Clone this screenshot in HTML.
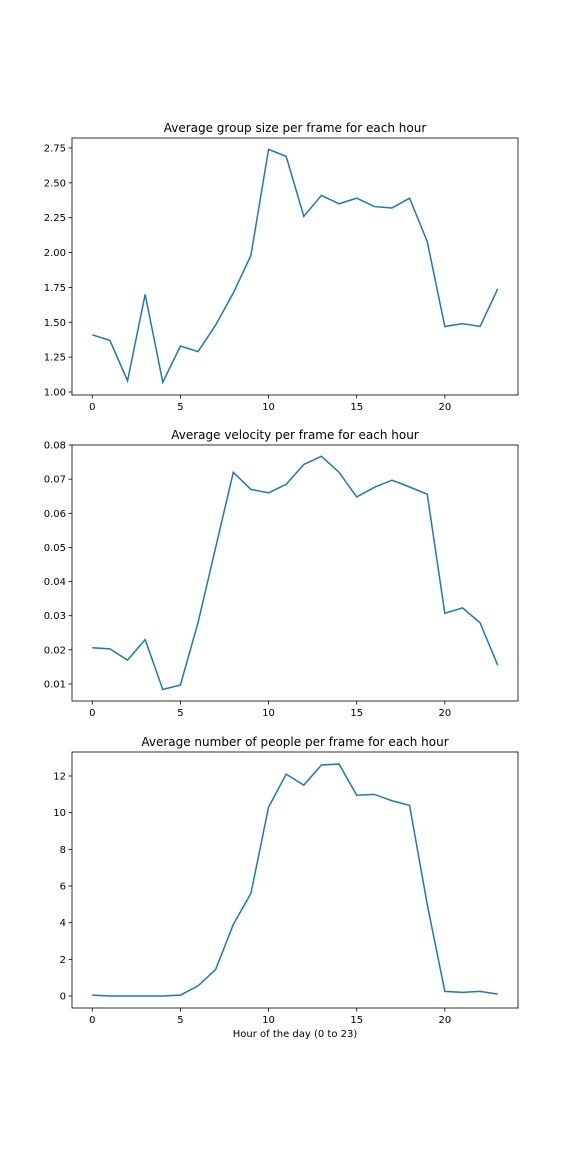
<!DOCTYPE html>
<html><head><meta charset="utf-8"><style>
body{margin:0;background:#fff;}
svg{display:block;font-family:"DejaVu Sans","Liberation Sans",sans-serif;}
</style></head><body>
<svg id="fig" width="576" height="1152"></svg>
<script>
const hours=[0,1,2,3,4,5,6,7,8,9,10,11,12,13,14,15,16,17,18,19,20,21,22,23];
const groupSize=[1.41,1.37,1.08,1.70,1.07,1.33,1.29,1.48,1.71,1.98,2.74,2.69,2.26,2.41,2.35,2.39,2.33,2.32,2.39,2.08,1.47,1.49,1.47,1.74];
const velocity=[0.0206,0.0203,0.0170,0.0230,0.0084,0.0097,0.028,0.050,0.072,0.067,0.066,0.0685,0.0743,0.0767,0.072,0.0648,0.0676,0.0697,0.0677,0.0656,0.0307,0.0323,0.0279,0.0155];
const people=[0.05,0,0,0,0,0.05,0.55,1.45,3.9,5.6,10.3,12.1,11.5,12.6,12.65,10.95,11.0,10.65,10.4,5.0,0.25,0.2,0.25,0.1];
const xTicks=[0,5,10,15,20];
const yTicks1=["1.00","1.25","1.50","1.75","2.00","2.25","2.50","2.75"];
const yTicks2=["0.01","0.02","0.03","0.04","0.05","0.06","0.07","0.08"];
const yTicks3=["0","2","4","6","8","10","12"];
const NS="http://www.w3.org/2000/svg";
const svg=document.getElementById('fig');
function mk(tag,attrs,parent){const e=document.createElementNS(NS,tag);for(const k in attrs)e.setAttribute(k,attrs[k]);(parent||svg).appendChild(e);return e;}
const L=72,R=518,xmin=-1.15,xmax=24.15;
function xs(v){return L+(v-xmin)/(xmax-xmin)*(R-L);}
function chart(name,title,top,bot,ymin,ymax,vals,yt,xlabel){
  const g=mk('g',{});
  
  
  const ys=v=>bot-(v-ymin)/(ymax-ymin)*(bot-top);
  const t=mk('text',{x:(L+R)/2,y:top-6,'text-anchor':'middle','font-size':12,fill:'#000'},g);
  t.textContent=title;
  
  
  xTicks.forEach(v=>{
    const x=xs(v);
    mk('line',{x1:x,x2:x,y1:bot,y2:bot+3.5,stroke:'#000','stroke-width':0.8},g);
    const tx=mk('text',{x:x,y:bot+15,'text-anchor':'middle','font-size':10},g);
    tx.textContent=v;
    
    
  });
  yt.forEach(s=>{
    const y=ys(parseFloat(s));
    mk('line',{x1:L-3.5,x2:L,y1:y,y2:y,stroke:'#000','stroke-width':0.8},g);
    const ty=mk('text',{x:L-6,y:y+3.5,'text-anchor':'end','font-size':10},g);
    ty.textContent=s;
    
    
  });
  const p=mk('polyline',{points:hours.map((h,i)=>xs(h)+','+ys(vals[i])).join(' '),fill:'none',stroke:'#1f77b4','stroke-width':1.5},g);
  
  
  const r=mk('rect',{x:L,y:top,width:R-L,height:bot-top,fill:'none',stroke:'#000','stroke-width':0.8},g);
  
  
  if(xlabel){
    const xl=mk('text',{x:(L+R)/2,y:bot+29,'text-anchor':'middle','font-size':10},g);
    xl.textContent=xlabel;
    
    
  }
}
chart('group-size-chart','Average group size per frame for each hour',138,395,1.0-3/139.4,2.75+10/139.4,groupSize,yTicks1);
chart('velocity-chart','Average velocity per frame for each hour',445,701,0.01-17/3414,0.08,velocity,yTicks2);
chart('people-chart','Average number of people per frame for each hour',752,1008,-12/18.333,12+24/18.333,people,yTicks3,'Hour of the day (0 to 23)');
</script>
</body></html>
